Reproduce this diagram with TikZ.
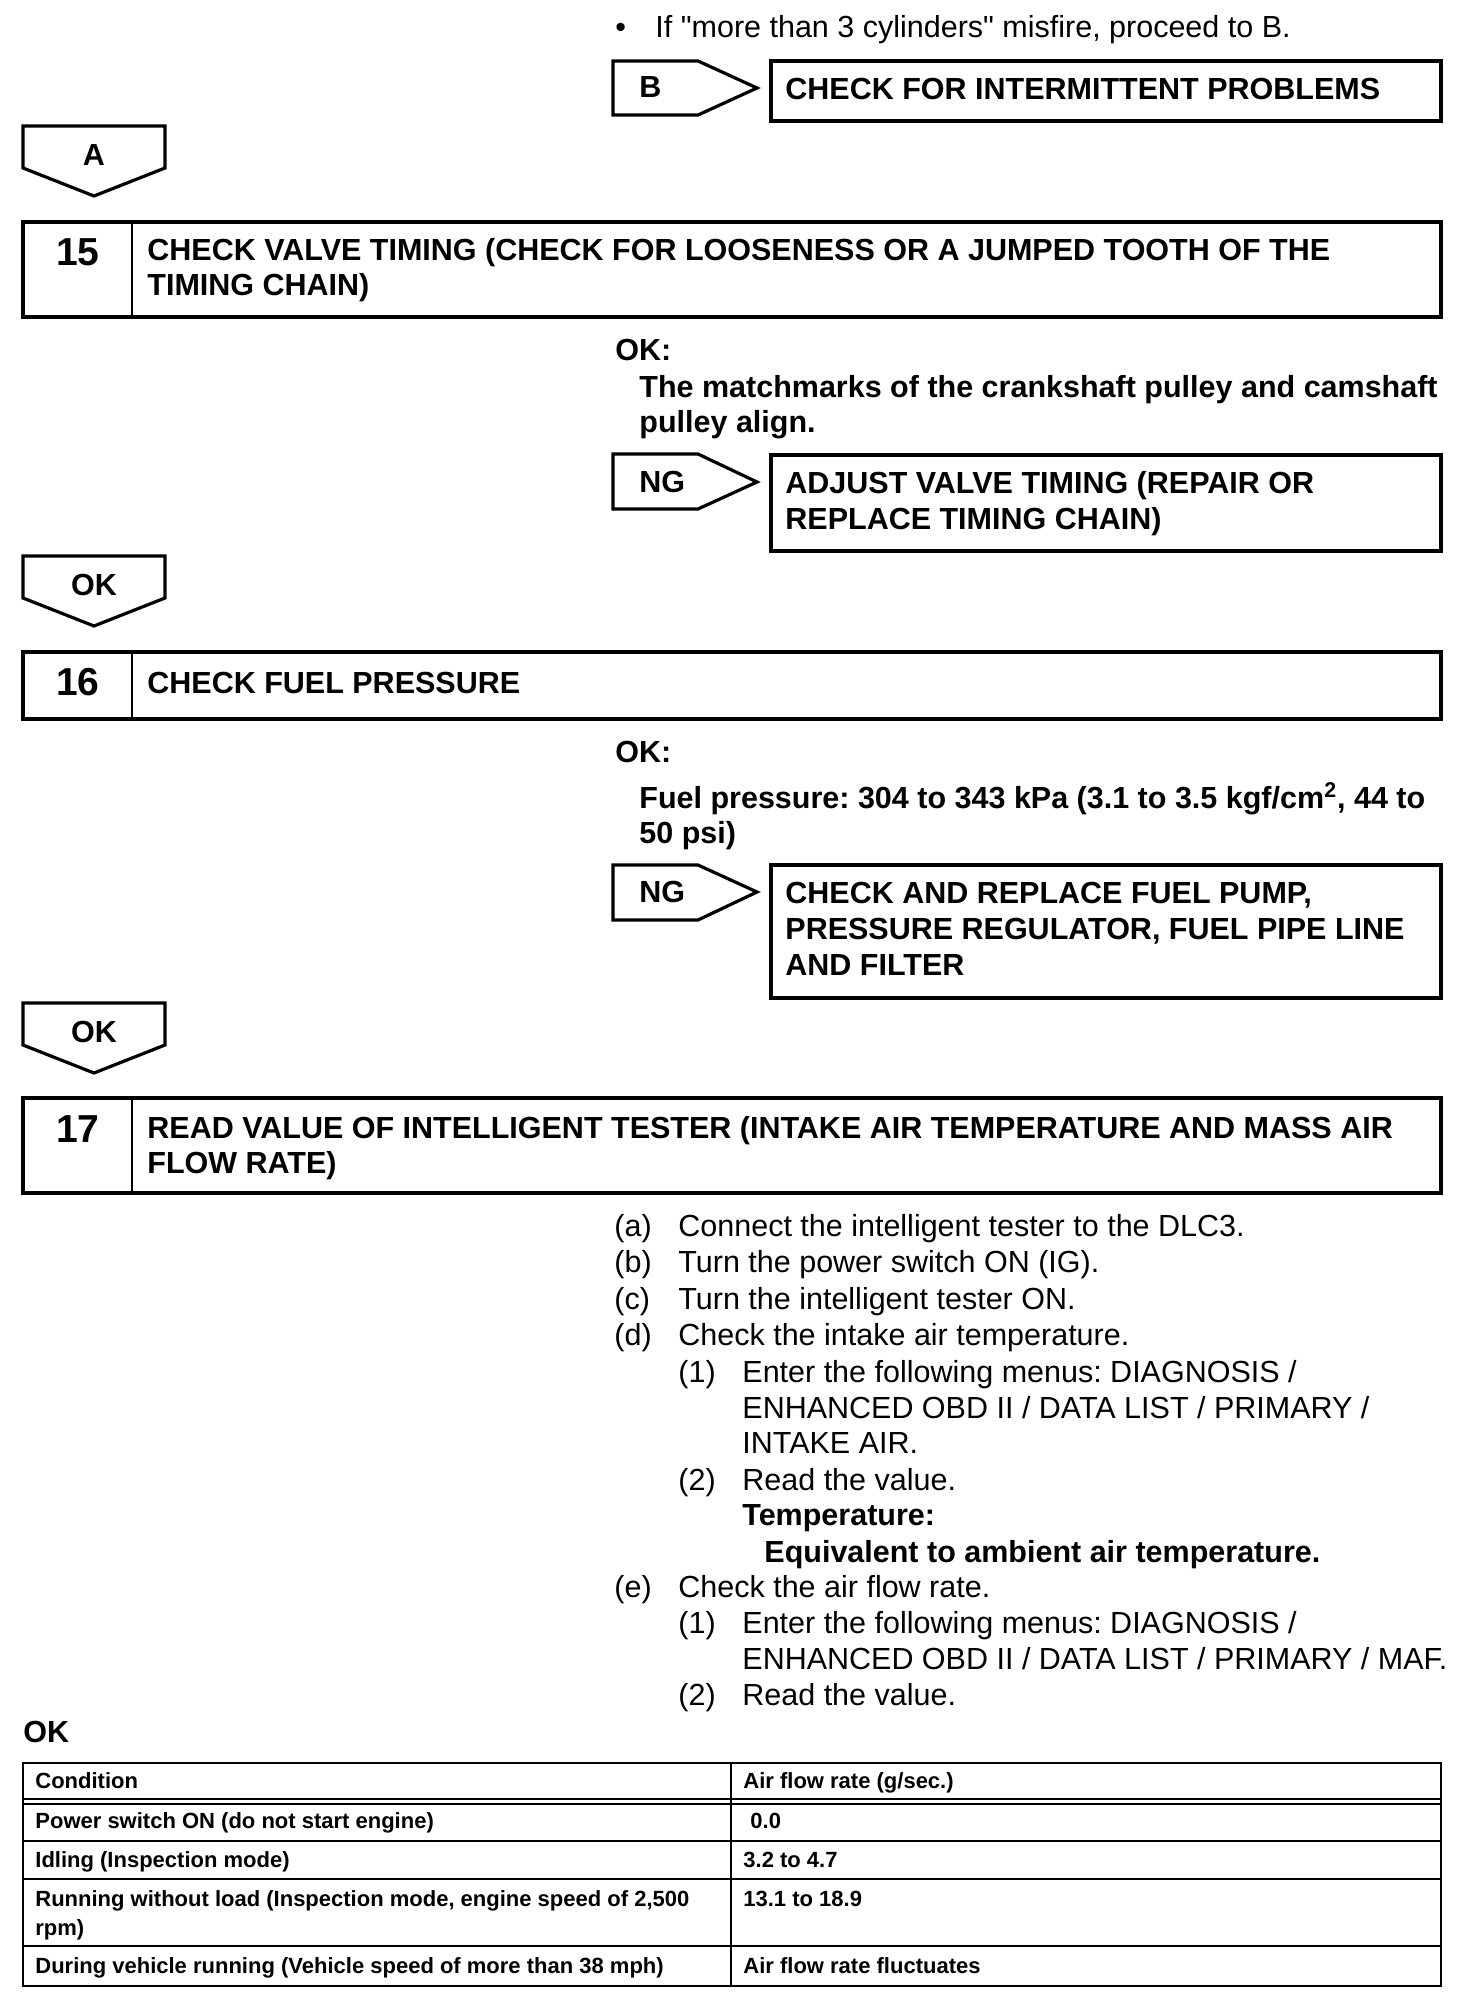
\documentclass[tikz,border=0pt]{standalone}
\usepackage{fontspec}
\setmainfont{Liberation Sans}[Ligatures=TeXOff]
\frenchspacing
\begin{document}
\frenchspacing
\begin{tikzpicture}[x=0.5pt,y=-0.5pt,
  box/.style={draw, line width=1.6pt, anchor=north west, inner sep=0pt, outer sep=0pt},
  tagline/.style={line width=1.6pt, line join=miter},
  divline/.style={line width=1pt},
  txt/.style={anchor=base west, inner sep=0pt, font=\fontsize{15.25pt}{18pt}\selectfont},
  btxt/.style={anchor=base west, inner sep=0pt, font=\fontsize{15.25pt}{18pt}\selectfont\bfseries},
  ctxt/.style={anchor=base, inner sep=0pt, font=\fontsize{15.25pt}{18pt}\selectfont\bfseries},
  num/.style={anchor=base, inner sep=0pt, font=\fontsize{19.5pt}{22pt}\selectfont\bfseries},
  tbl/.style={anchor=base west, inner sep=0pt, font=\fontsize{11pt}{13pt}\selectfont\bfseries},
  tline/.style={line width=1pt},
]
\useasboundingbox (0,0) rectangle (1456,2002);

% ---------- top bullet ----------
\node[txt] (bul) at (615,38) {•};
\node[txt] (bultext) at (655,38) {If "more than 3 cylinders" misfire, proceed to B.};

% ---------- B tag and box ----------
\draw[tagline] (613,61) -- (698,61) -- (757,88) -- (698,115) -- (613,115) -- cycle;
\node[btxt] (Blbl) at (639,97) {B};
\node[box, minimum width=335pt, minimum height=30pt] (r1) at (771,61) {};
\node[btxt] (r1t) at (785,99) {CHECK FOR INTERMITTENT PROBLEMS};

% ---------- A tag ----------
\draw[tagline] (23,126) -- (165,126) -- (165,168) -- (94,196) -- (23,168) -- cycle;
\node[ctxt] (Albl) at (94,165) {A};

% ---------- step 15 ----------
\node[box, minimum width=709pt, minimum height=47.5pt] (b15) at (23,222) {};
\draw[divline] (b15.north west -| 132,0) -- (b15.south west -| 132,0);
\node[num] (n15) at (78,265) {15};
\node[btxt] (h15a) at (147,260) {CHECK VALVE TIMING (CHECK FOR LOOSENESS OR A JUMPED TOOTH OF THE};
\node[btxt] (h15b) at (147,295) {TIMING CHAIN)};

\node[btxt] (ok15) at (615,360) {OK:};
\node[btxt] (m1) at (639,397) {The matchmarks of the crankshaft pulley and camshaft};
\node[btxt] (m2) at (639,432) {pulley align.};

\draw[tagline] (613,454) -- (698,454) -- (757,482) -- (698,509) -- (613,509) -- cycle;
\node[btxt] (NG1) at (639,492) {NG};
\node[box, minimum width=335pt, minimum height=48pt] (r2) at (771,455) {};
\node[btxt] (r2a) at (785,493) {ADJUST VALVE TIMING (REPAIR OR};
\node[btxt] (r2b) at (785,529) {REPLACE TIMING CHAIN)};

\draw[tagline] (23,556) -- (165,556) -- (165,598) -- (94,626) -- (23,598) -- cycle;
\node[ctxt] (OK1) at (94,595) {OK};

% ---------- step 16 ----------
\node[box, minimum width=709pt, minimum height=33.5pt] (b16) at (23,652) {};
\draw[divline] (b16.north west -| 132,0) -- (b16.south west -| 132,0);
\node[num] (n16) at (78,695) {16};
\node[btxt] (h16) at (147,693) {CHECK FUEL PRESSURE};

\node[btxt] (ok16) at (615,762) {OK:};
\node[btxt] (f1) at (639,808) {Fuel pressure: 304 to 343 kPa (3.1 to 3.5 kgf/cm\textsuperscript{2}, 44 to};
\node[btxt] (f2) at (639,843) {50 psi)};

\draw[tagline] (613,865) -- (698,865) -- (757,892) -- (698,920) -- (613,920) -- cycle;
\node[btxt] (NG2) at (639,902) {NG};
\node[box, minimum width=335pt, minimum height=66.5pt] (r3) at (771,865) {};
\node[btxt] (r3a) at (785,903) {CHECK AND REPLACE FUEL PUMP,};
\node[btxt] (r3b) at (785,939) {PRESSURE REGULATOR, FUEL PIPE LINE};
\node[btxt] (r3c) at (785,975) {AND FILTER};

\draw[tagline] (23,1003) -- (165,1003) -- (165,1045) -- (94,1073) -- (23,1045) -- cycle;
\node[ctxt] (OK2) at (94,1042) {OK};

% ---------- step 17 ----------
\node[box, minimum width=709pt, minimum height=47.5pt] (b17) at (23,1098) {};
\draw[divline] (b17.north west -| 132,0) -- (b17.south west -| 132,0);
\node[num] (n17) at (78,1142) {17};
\node[btxt] (h17a) at (147,1138) {READ VALUE OF INTELLIGENT TESTER (INTAKE AIR TEMPERATURE AND MASS AIR};
\node[btxt] (h17b) at (147,1173) {FLOW RATE)};

\node[txt] (la) at (614,1236) {(a)};
\node[txt] (ta) at (678,1236) {Connect the intelligent tester to the DLC3.};
\node[txt] (lb) at (614,1272) {(b)};
\node[txt] (tb) at (678,1272) {Turn the power switch ON (IG).};
\node[txt] (lc) at (614,1309) {(c)};
\node[txt] (tc) at (678,1309) {Turn the intelligent tester ON.};
\node[txt] (ld) at (614,1345) {(d)};
\node[txt] (td) at (678,1345) {Check the intake air temperature.};
\node[txt] (ld1) at (678,1382) {(1)};
\node[txt] (td1a) at (742,1382) {Enter the following menus: DIAGNOSIS /};
\node[txt] (td1b) at (742,1418) {ENHANCED OBD II / DATA LIST / PRIMARY /};
\node[txt] (td1c) at (742,1453) {INTAKE AIR.};
\node[txt] (ld2) at (678,1490) {(2)};
\node[txt] (td2) at (742,1490) {Read the value.};
\node[btxt] (temp) at (742,1525) {Temperature:};
\node[btxt] (equiv) at (764,1562) {Equivalent to ambient air temperature.};
\node[txt] (le) at (614,1597) {(e)};
\node[txt] (te) at (678,1597) {Check the air flow rate.};
\node[txt] (le1) at (678,1633) {(1)};
\node[txt] (te1a) at (742,1633) {Enter the following menus: DIAGNOSIS /};
\node[txt] (te1b) at (742,1669) {ENHANCED OBD II / DATA LIST / PRIMARY / MAF.};
\node[txt] (le2) at (678,1705) {(2)};
\node[txt] (te2) at (742,1705) {Read the value.};

\node[btxt] (okfin) at (23,1742) {OK};

% ---------- table ----------
\node[box, line width=1.3pt, minimum width=709pt, minimum height=111.5pt] (tab) at (23,1763) {};
\draw[tline] (tab.west |- 0,1799) -- (tab.east |- 0,1799);
\draw[tline] (tab.west |- 0,1804) -- (tab.east |- 0,1804);
\draw[tline] (tab.west |- 0,1841) -- (tab.east |- 0,1841);
\draw[tline] (tab.west |- 0,1879) -- (tab.east |- 0,1879);
\draw[tline] (tab.west |- 0,1946) -- (tab.east |- 0,1946);
\draw[tline] (tab.north -| 731,0) -- (tab.south -| 731,0);

\node[tbl] (c0) at (35,1788) {Condition};
\node[tbl] (v0) at (743,1788) {Air flow rate (g/sec.)};
\node[tbl] (c1) at (35,1828) {Power switch ON (do not start engine)};
\node[tbl] (v1) at (750,1828) {0.0};
\node[tbl] (c2) at (35,1867) {Idling (Inspection mode)};
\node[tbl] (v2) at (743,1867) {3.2 to 4.7};
\node[tbl] (c3a) at (35,1906) {Running without load (Inspection mode, engine speed of 2,500};
\node[tbl] (c3b) at (35,1935) {rpm)};
\node[tbl] (v3) at (743,1906) {13.1 to 18.9};
\node[tbl] (c4) at (35,1973) {During vehicle running (Vehicle speed of more than 38 mph)};
\node[tbl] (v4) at (743,1973) {Air flow rate fluctuates};
\end{tikzpicture}
\end{document}
